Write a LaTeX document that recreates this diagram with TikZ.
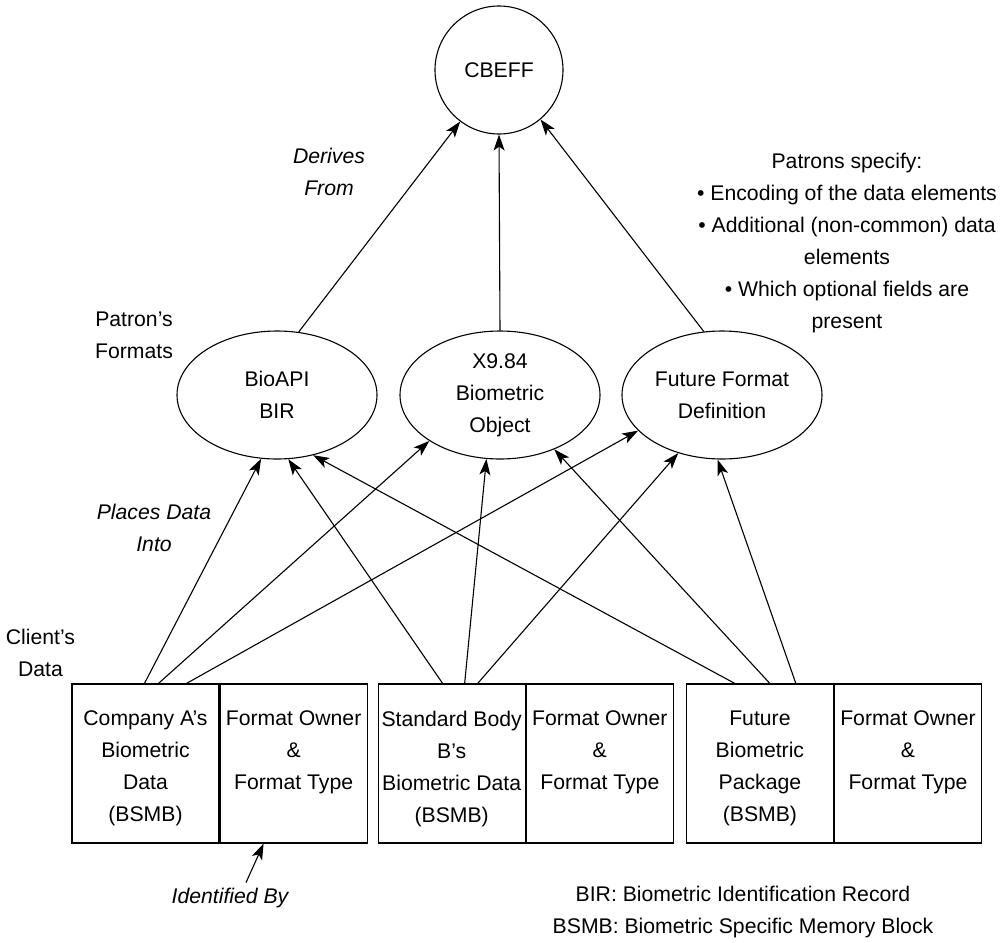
\documentclass[tikz,border=0pt]{standalone}
\usepackage{fontspec}
\setmainfont{Liberation Sans}
\usetikzlibrary{shapes.geometric,arrows.meta,positioning}
\newcommand{\basefont}{\fontsize{21.2}{32}\selectfont}

\begin{document}
\begin{tikzpicture}[x=1pt,y=-1pt,line width=1.1pt,font=\basefont,
        fmt/.style={ellipse,draw,minimum width=200pt,minimum height=128pt,inner sep=0pt,align=center},
        cell/.style={rectangle,draw,minimum width=147pt,minimum height=159pt,inner sep=0pt},
        celltxt/.style={anchor=north,inner sep=0pt,align=center},
        note/.style={inner sep=0pt,align=center},
        ital/.style={note,font=\basefont\itshape},
        arr/.style={-{Stealth[length=16pt,width=11pt,inset=4pt]}}]
        \useasboundingbox (0,0) rectangle (1005,943);

        % top and patron formats
        \node[circle,draw,minimum size=128pt,inner sep=0pt] (cbeff) at (499,70) {CBEFF};
        \node[fmt] (bioapi) at (277,395) {BioAPI\\BIR};
        \node[fmt] (x984) at (500,395) {X9.84\\Biometric\\Object};
        \node[fmt] (future) at (722,395) {Future Format\\Definition};

        % client data boxes
        \node[cell] (dataA) at (145.5,763.5) {};
        \node[cell,right=0pt of dataA] (ownerA) {};
        \node[cell,right=10pt of ownerA] (dataB) {};
        \node[cell,right=0pt of dataB] (ownerB) {};
        \node[cell,right=12pt of ownerB] (dataC) {};
        \node[cell,right=0pt of dataC] (ownerC) {};
        \node[celltxt] (dataAtxt) at ([yshift=-27pt]dataA.north) {Company A’s\\Biometric\\Data\\(BSMB)};
        \node[celltxt] (dataBtxt) at ([yshift=-27pt]dataB.north) {Standard Body\\B’s\\Biometric Data\\(BSMB)};
        \node[celltxt] (dataCtxt) at ([yshift=-27pt]dataC.north) {Future\\Biometric\\Package\\(BSMB)};
        \foreach \o in {ownerA,ownerB,ownerC}
            \node[celltxt] (\o txt) at ([yshift=-27pt]\o.north) {Format Owner\\\&\\Format Type};

        % labels
        \node[ital] (derives) at (329,171.5) {Derives\\From};
        \node[note] (patrons) at (134,335) {Patron’s\\Formats};
        \node[ital] (places) at (154,528) {Places Data\\Into};
        \node[note] (clients) at (40.5,653) {Client’s\\Data};
        \node[note] (specify) at (847,243.5) {Patrons specify:\\• Encoding of the data elements\\• Additional (non-common) data\\elements\\• Which optional fields are\\present};
        \node[ital] (ident) at (230,898) {Identified By};
        \node[note] (legend) at (743,912) {BIR: Biometric Identification Record\\BSMB: Biometric Specific Memory Block};

        % derives from
        \draw[arr] (bioapi.71) -- (cbeff.233);
        \draw[arr] (x984.north) -- (cbeff.south);
        \draw[arr] (future.106) -- (cbeff.310);

        % places data into
        \coordinate (a1) at ([xshift=73pt]dataA.north west);
        \coordinate (a2) at ([xshift=87pt]dataA.north west);
        \coordinate (a3) at ([xshift=115pt]dataA.north west);
        \coordinate (b1) at ([xshift=65pt]dataB.north west);
        \coordinate (b2) at ([xshift=87pt]dataB.north west);
        \coordinate (b3) at ([xshift=100pt]dataB.north west);
        \coordinate (c1) at ([xshift=49pt]dataC.north west);
        \coordinate (c2) at ([xshift=84pt]dataC.north west);
        \coordinate (c3) at ([xshift=110pt]dataC.north west);
        \foreach \s/\t in {a1/bioapi.256,a2/x984.213,a3/future.203,
                b1/bioapi.280,b2/x984.258,b3/future.233,
                c1/bioapi.301,c2/x984.315,c3/future.266}
            \draw[arr] (\s) -- (\t);

        \draw[arr] ([xshift=16pt,yshift=5pt]ident.north) -- ([xshift=-30pt]ownerA.south);
\end{tikzpicture}
\end{document}
